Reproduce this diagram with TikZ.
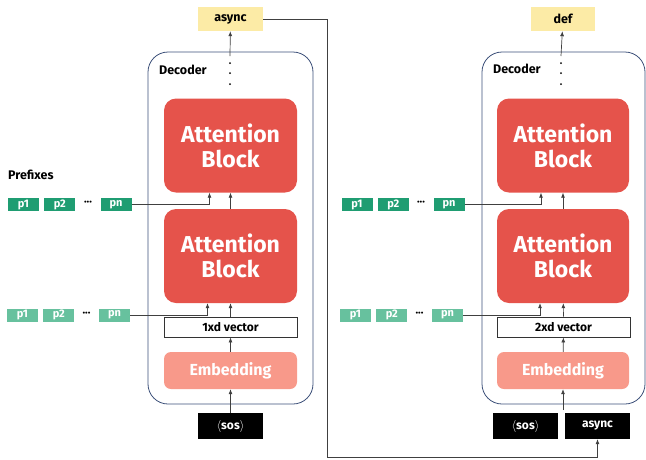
\documentclass[tikz,border=0pt]{standalone}
\usepackage{fontspec}
\setmainfont{Fira Sans}
\usetikzlibrary{arrows.meta,positioning,calc}
\definecolor{attred}{HTML}{E5534B}
\definecolor{embpink}{HTML}{F8998A}
\definecolor{outyellow}{HTML}{FCEBA6}
\definecolor{pfxdark}{HTML}{1F9D72}
\definecolor{pfxlight}{HTML}{67C19E}
\definecolor{decblue}{HTML}{3C5079}
\tikzset{
  attblock/.style  = {fill=attred, rounded corners=12pt, minimum width=133pt,
                      minimum height=94pt, text=white, align=center,
                      font=\fontsize{23}{25}\selectfont\bfseries},
  embblock/.style  = {fill=embpink, rounded corners=7pt, minimum width=133pt,
                      minimum height=37pt, text=white,
                      font=\fontsize{16}{18}\selectfont\bfseries},
  vecbox/.style    = {draw=black!80, line width=0.9pt, fill=white, minimum width=133pt,
                      minimum height=20pt, inner sep=0pt, font=\fontsize{12}{13}\selectfont\bfseries},
  tokbox/.style    = {fill=black, text=white, minimum width=65pt, minimum height=26pt,
                      inner sep=0pt, font=\fontsize{12}{13}\selectfont\bfseries},
  outbox/.style    = {fill=outyellow, minimum width=65pt, minimum height=24pt,
                      inner sep=0pt, font=\fontsize{12.5}{13}\selectfont\bfseries},
  pfx/.style       = {fill=pfxdark, text=white, minimum width=31pt, minimum height=13pt,
                      inner sep=0pt, font=\fontsize{11}{11}\selectfont\bfseries},
  pfxsoft/.style   = {pfx, fill=pfxlight},
  pdots/.style     = {inner sep=0pt, font=\fontsize{11}{11}\selectfont\bfseries},
  decbox/.style    = {draw=decblue, line width=0.8pt, rounded corners=20pt,
                      minimum height=352pt},
  tag/.style       = {font=\fontsize{12.5}{13}\selectfont\bfseries, inner sep=0pt},
  vdot/.style      = {fill, circle, inner sep=0pt, minimum size=2pt},
  sig/.style       = {-{Latex[length=5pt,width=4pt]}, line width=0.7pt, draw=black!75},
}

\begin{document}
\begin{tikzpicture}[x=1pt, y=-1pt]
\useasboundingbox (0,0) rectangle (646,459);
% ---- first step ----
\node[decbox, minimum width=165pt] (dec1) at (230.5,228) {};
\node[tag, anchor=west] (dname1) at (159,70) {Decoder};
\node[attblock] (att1a) at (230.5,145.5) {Attention\\Block};
\node[attblock] (att1b) at (230.5,256) {Attention\\Block};
\node[vecbox] (vec1) at (230.5,327) {1xd vector};
\node[embblock] (emb1) at (230.5,370.5) {Embedding};
\node[tokbox] (sos1) at (230.5,426) {$\langle$sos$\rangle$};
\node[outbox] (out1) at (230.5,19) {async};
\node[vdot] (d1a) at (230,63) {};
\node[vdot] (d1b) at (230,73) {};
\node[vdot] (d1c) at (230,84) {};
\coordinate (top1) at (230,56);
\draw[sig] (sos1) -- (emb1);
\draw[sig] (emb1) -- (vec1);
\draw[sig] (vec1) -- (att1b);
\draw[sig] (att1b) -- (att1a);
\draw[sig] (top1) -- (out1);
% prefixes
\node[tag, anchor=west] (pfxname) at (8,175) {Prefixes};
\node[pfx] (p11) at (23.5,204.5) {p1};
\node[pfx, right=5pt of p11] (p12) {p2};
\node[pdots] (dt11) at (88,203.5) {···};
\node[pfx] (pn11) at (116,204.5) {pn};
\node[pfxsoft] (p21) at (22.5,315) {p1};
\node[pfxsoft, right=5pt of p21] (p22) {p2};
\node[pdots] (dt21) at (86.5,314) {···};
\node[pfxsoft] (pn21) at (114.5,315) {pn};
\draw[sig] (pn11.east) -| ($(att1a.south)+(-21,0)$);
\draw[sig] (pn21.east) -| ($(att1b.south)+(-23,0)$);

% ---- second step ----
\node[decbox, minimum width=163pt] (dec2) at (563.5,228) {};
\node[tag, anchor=west] (dname2) at (493,69) {Decoder};
\node[attblock, minimum width=132pt] (att2a) at (563,145.5) {Attention\\Block};
\node[attblock, minimum width=132pt] (att2b) at (563,256) {Attention\\Block};
\node[vecbox] (vec2) at (563.5,327) {2xd vector};
\node[embblock, minimum width=132pt] (emb2) at (563,370.5) {Embedding};
\node[tokbox] (sos2) at (525.5,426) {$\langle$sos$\rangle$};
\node[tokbox] (in2) at (597.5,426) {async};
\node[outbox, minimum width=64pt] (out2) at (563,19) {def};
\node[vdot] (d2a) at (561,63) {};
\node[vdot] (d2b) at (561,73) {};
\node[vdot] (d2c) at (561,84) {};
\coordinate (top2) at (561,56);
\coordinate (bot2) at (563,410);
\draw[sig] (bot2) -- (emb2);
\draw[sig] (emb2) -- (vec2);
\draw[sig] (vec2) -- (att2b);
\draw[sig] (att2b) -- (att2a);
\draw[sig] (top2) -- (out2);
\node[pfx] (p31) at (357,204.5) {p1};
\node[pfx, right=5pt of p31] (p32) {p2};
\node[pdots] (dt31) at (421,203.5) {···};
\node[pfx] (pn31) at (449,204.5) {pn};
\node[pfxsoft] (p41) at (355.5,315) {p1};
\node[pfxsoft, right=5pt of p41] (p42) {p2};
\node[pdots] (dt41) at (419.5,314) {···};
\node[pfxsoft] (pn41) at (447.5,315) {pn};
\draw[sig] (pn31.east) -| ($(att2a.south)+(-22,0)$);
\draw[sig] (pn41.east) -| ($(att2b.south)+(-23,0)$);

% feed the output back as the next input
\coordinate (loopturn) at (327,457);
\draw[sig] (out1.east) -| (loopturn) -| (in2.south);
\end{tikzpicture}
\end{document}
